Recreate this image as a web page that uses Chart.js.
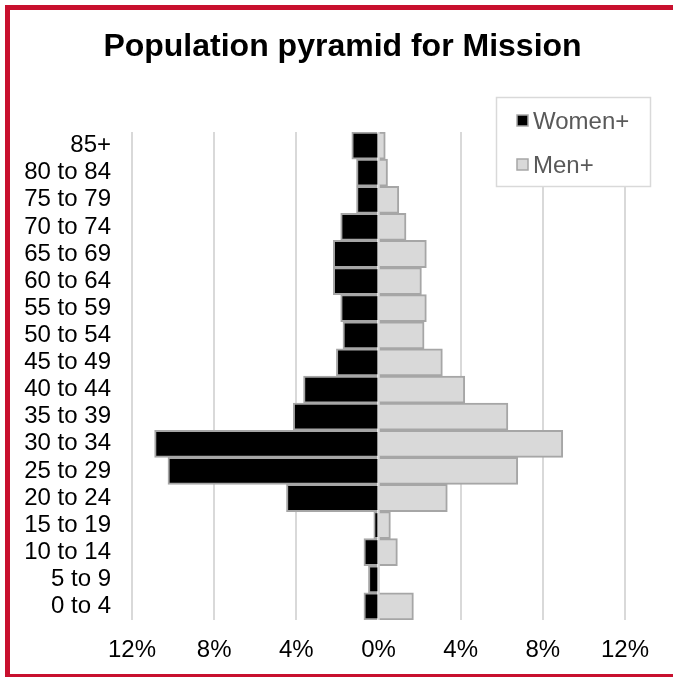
<!DOCTYPE html>
<html>
<head>
<meta charset="utf-8">
<script src="https://cdn.jsdelivr.net/npm/chart.js@4"></script>
<style>
  html, body { margin: 0; padding: 0; background: #fff; }
  #wrap { position: relative; width: 673px; height: 679px; }
  #frame {
    position: absolute; left: 5px; top: 5px; right: 0; bottom: 2px;
    border-top: 5px solid #c8102e; border-left: 5px solid #c8102e;
    border-bottom: 3px solid #c8102e; pointer-events: none;
  }
</style>
</head>
<body>
<div id="wrap">
  <canvas id="chartPiramida" width="673" height="679"></canvas>
  <div id="frame"></div>
</div>
<script>
// Kelompok umur (atas ke bawah)
const ageGroups = ["85+", "80 to 84", "75 to 79", "70 to 74", "65 to 69", "60 to 64",
  "55 to 59", "50 to 54", "45 to 49", "40 to 44", "35 to 39", "30 to 34",
  "25 to 29", "20 to 24", "15 to 19", "10 to 14", "5 to 9", "0 to 4"];

// Persen penduduk
const women = [1.3, 1.07, 1.07, 1.84, 2.2, 2.2, 1.84, 1.73, 2.05, 3.65, 4.15, 10.9,
  10.25, 4.48, 0.23, 0.71, 0.49, 0.71];
const men = [0.33, 0.44, 0.99, 1.34, 2.33, 2.09, 2.33, 2.22, 3.11, 4.2, 6.3, 8.97,
  6.78, 3.35, 0.58, 0.92, 0, 1.7];

const xTicks = [-12, -8, -4, 0, 4, 8, 12];

const FONT = "'Liberation Sans', Arial, sans-serif";

// Geser judul sedikit ke kanan
const geserJudul = {
  id: "geserJudul",
  afterLayout(chart) {
    if (chart.titleBlock) chart.titleBlock.left = 60;
  },
};

// Legenda dalam kotak di kanan atas
const boxLegend = {
  id: "boxLegend",
  afterDraw(chart) {
    const ctx = chart.ctx;
    ctx.save();
    ctx.fillStyle = "#fff";
    ctx.fillRect(496, 97, 155, 90);
    ctx.strokeStyle = "#d9d9d9";
    ctx.lineWidth = 1.5;
    ctx.strokeRect(496.5, 97.5, 154, 89);
    ctx.font = "24px " + FONT;
    ctx.textBaseline = "middle";
    chart.data.datasets.forEach((ds, i) => {
      const y = 121 + i * 44;
      ctx.fillStyle = ds.backgroundColor;
      ctx.fillRect(517, y - 6, 11, 11);
      ctx.strokeStyle = "#a6a6a6";
      ctx.lineWidth = 1.5;
      ctx.strokeRect(517, y - 6, 11, 11);
      ctx.fillStyle = "#595959";
      ctx.fillText(ds.label, 533, y + 1);
    });
    ctx.restore();
  },
};

new Chart(document.getElementById("chartPiramida"), {
  type: "bar",
  data: {
    labels: ageGroups,
    datasets: [
      {
        label: "Women+",
        data: women.map((v) => -v),
        backgroundColor: "#000000",
        borderColor: "#a6a6a6",
        borderWidth: 2,
        barPercentage: 1,
        categoryPercentage: 1,
      },
      {
        label: "Men+",
        data: men,
        backgroundColor: "#d9d9d9",
        borderColor: "#a6a6a6",
        borderWidth: 2,
        barPercentage: 1,
        categoryPercentage: 1,
      },
    ],
  },
  options: {
    indexAxis: "y",
    responsive: false,
    animation: false,
    layout: { padding: { left: 0, right: 48, top: 0, bottom: 0 } },
    plugins: {
      legend: { display: false },
      tooltip: { enabled: false },
      title: {
        display: true,
        text: "Population pyramid for Mission",
        color: "#000",
        font: { family: FONT, size: 32, weight: "bold" },
        padding: { top: 28, bottom: 65.6 },
      },
    },
    scales: {
      x: {
        stacked: true,
        min: -12,
        max: 12,
        afterBuildTicks: (axis) => {
          axis.ticks = xTicks.map((v) => ({ value: v }));
        },
        afterFit: (axis) => { axis.height = 59; },
        ticks: {
          color: "#000",
          font: { family: FONT, size: 24 },
          padding: 16,
          maxRotation: 0,
          callback: (v) => Math.abs(v) + "%",
        },
        grid: { color: "#d9d9d9", lineWidth: 2, drawTicks: false },
        border: { display: false },
      },
      y: {
        stacked: true,
        afterFit: (axis) => { axis.width = 132; },
        ticks: {
          color: "#000",
          font: { family: FONT, size: 24 },
          padding: 21,
          autoSkip: false,
        },
        grid: { display: false, drawTicks: false },
        border: { display: false },
      },
    },
  },
  plugins: [geserJudul, boxLegend],
});
</script>
</body>
</html>
